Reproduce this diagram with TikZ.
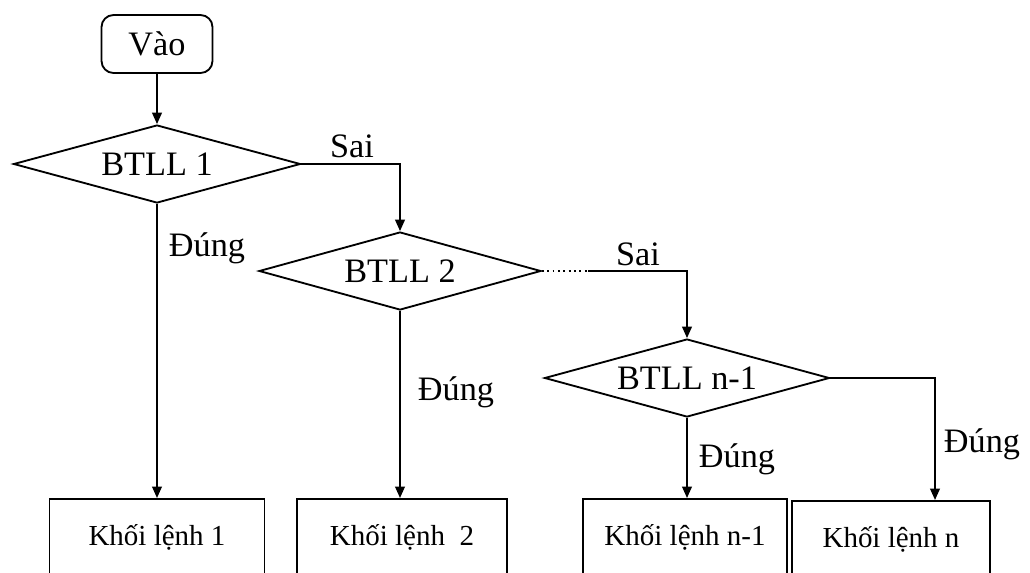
\documentclass[tikz,border=0pt]{standalone}
\usepackage{fontspec}
\setmainfont{Liberation Serif}
\usepackage{tikz}
\usetikzlibrary{arrows.meta}
\usetikzlibrary{shapes.geometric}
\usetikzlibrary{positioning}

\tikzset{
  dieukien/.style={draw, diamond, aspect=3.6, inner sep=0pt, minimum width=5.7cm,
    minimum height=1.56cm, font=\fontsize{19.5}{22}\selectfont},
  khoi/.style={draw, rectangle, anchor=north, minimum height=1.52cm, inner sep=0pt,
    font=\fontsize{16.5}{19}\selectfont},
  nhan/.style={font=\fontsize{19.5}{22}\selectfont, inner sep=0pt},
  mui/.style={-{Triangle[length=6.5pt, width=5.5pt]}}
}

\begin{document}
\begin{tikzpicture}[x=0.02cm, y=-0.02cm, line width=1.05pt]
      \useasboundingbox (0, 0) rectangle (1030, 572);
      \clip (0, 0) rectangle (1030, 572);

      \node [draw, rounded corners=0.24cm, minimum width=2.22cm, minimum height=1.16cm,
        font=\fontsize{19.5}{22}\selectfont] (vao) at (157, 44) {Vào};
      \node [dieukien, minimum width=5.74cm] (d1) at (157, 164) {BTLL 1};
      \node [dieukien, minimum width=5.64cm] (d2) at (400, 271) {BTLL 2};
      \node [dieukien] (d3) at (687, 378) {BTLL n-1};

      \node [khoi, minimum width=4.3cm] (k1) at (157, 498) {Khối lệnh 1};
      \node [khoi, minimum width=4.2cm] (k2) at (402, 498) {Khối lệnh~~2};
      \node [khoi, minimum width=4.08cm] (kn1) at (685, 498) {Khối lệnh n-1};
      \node [khoi, minimum width=3.96cm] (kn) at (891, 500) {Khối lệnh n};

      \coordinate (g2) at (588, 271);
      \coordinate (cn) at (935, 378);

      \draw [mui] (vao) -- (d1.north);
      \draw [mui] (d1.east) -| (d2.north);
      \draw [mui] (d1.south) -- (d1.south |- k1.north);
      \draw [dotted] (d2.east) -- (g2);
      \draw [mui] (g2) -| (d3.north);
      \draw [mui] (d2.south) -- (d2.south |- k2.north);
      \draw [mui] (d3.south) -- (d3.south |- kn1.north);
      \draw [mui] (d3.east) -- (cn) -- (cn |- kn.north);

      \node [nhan] (sai1) at (352, 146) {Sai};
      \node [nhan] (sai2) at (638, 254) {Sai};
      \node [nhan] (dung1) at (207, 248) {Đúng};
      \node [nhan] (dung2) at (456, 392) {Đúng};
      \node [nhan] (dung3) at (737, 459) {Đúng};
      \node [nhan] (dung4) at (982, 444) {Đúng};
    \end{tikzpicture}
\end{document}
